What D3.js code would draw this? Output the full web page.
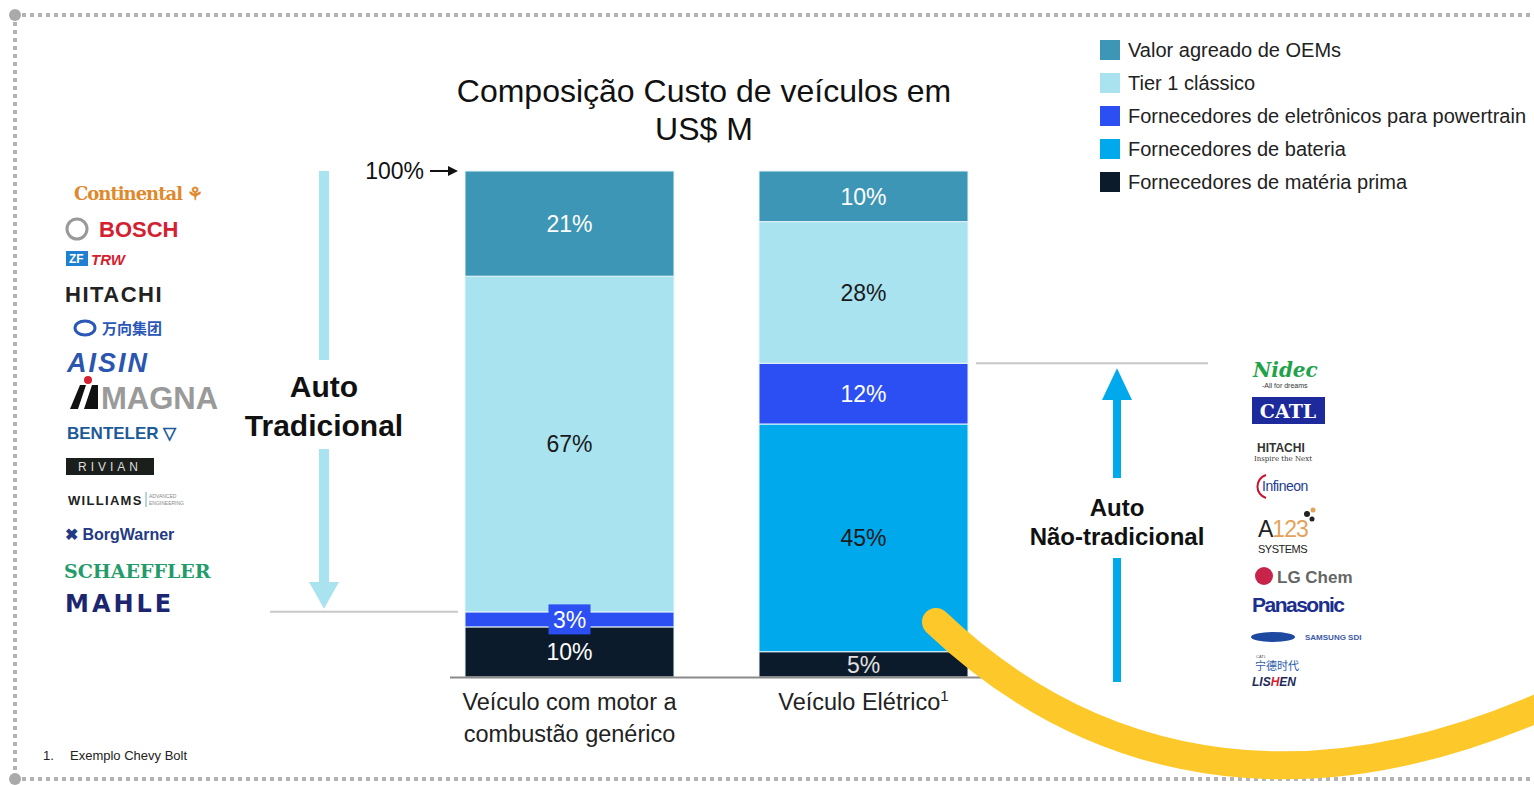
<!DOCTYPE html>
<html>
<head>
<meta charset="utf-8">
<script src="https://cdn.jsdelivr.net/npm/d3@7"></script>
<style>
	body { margin: 0; background: #fff; }
	svg { display: block; font-family: "Liberation Sans", Arial, sans-serif; }
</style>
</head>
<body>
<svg id="chart"></svg>
<script>
const WIDTH = 1534;
const HEIGHT = 785;

// data
const categories = ["Veículo com motor a combustão genérico", "Veículo Elétrico"];
const categoryLines = [["Veículo com motor a", "combustão genérico"], ["Veículo Elétrico¹"]];
const seriesNames = [
	"Fornecedores de matéria prima",
	"Fornecedores de bateria",
	"Fornecedores de eletrônicos para powertrain",
	"Tier 1 clássico",
	"Valor agreado de OEMs",
];
const materiaPrima = [10, 5];
const bateria = [0, 45];
const eletronicos = [3, 12];
const tier1 = [67, 28];
const oems = [21, 10];
const legendOrder = [4, 3, 2, 1, 0];

const colors = ["#0c1b2b", "#00a9ec", "#2b4ff2", "#a9e3ef", "#3d96b5"];
const labelColors = ["#ffffff", "#1a1a1a", "#ffffff", "#1a1a1a", "#ffffff"];

const leftLogos = ["Continental", "BOSCH", "TRW", "HITACHI", "万向集团", "AISIN", "MAGNA", "BENTELER", "RIVIAN", "WILLIAMS", "BorgWarner", "SCHAEFFLER", "MAHLE"];
const rightLogos = ["Nidec", "CATL", "HITACHI", "Infineon", "A123", "LG Chem", "Panasonic", "SAMSUNG SDI", "宁德时代", "LISHEN"];

const svg = d3.select("#chart").attr("width", WIDTH).attr("height", HEIGHT);

const table = categories.map((c, i) => ({
	cat: c,
	s0: materiaPrima[i],
	s1: bateria[i],
	s2: eletronicos[i],
	s3: tier1[i],
	s4: oems[i],
}));
const keys = ["s0", "s1", "s2", "s3", "s4"];
const stacked = d3.stack().keys(keys).offset(d3.stackOffsetExpand)(table);

const x = d3.scaleBand().domain(categories).range([465, 968]).paddingInner(85 / 294).paddingOuter(0);
const y = d3.scaleLinear([0, 1], [677, 171]);

// frame
const frame = svg.append("g").attr("stroke", "#b3b3b3").attr("stroke-width", 4).attr("stroke-dasharray", "4,4");
frame.append("line").attr("x1", 22).attr("x2", WIDTH).attr("y1", 15).attr("y2", 15);
frame.append("line").attr("x1", 15).attr("x2", 15).attr("y1", 22).attr("y2", 773);
frame.append("line").attr("x1", 22).attr("x2", WIDTH).attr("y1", 779).attr("y2", 779);
svg.append("circle").attr("cx", 15).attr("cy", 15).attr("r", 6).attr("fill", "#aaa");
svg.append("circle").attr("cx", 15).attr("cy", 779).attr("r", 6).attr("fill", "#aaa");

// title
svg.append("text").attr("x", 704).attr("y", 102).attr("text-anchor", "middle")
	.attr("font-size", 32).attr("fill", "#111").text("Composição Custo de veículos em");
svg.append("text").attr("x", 704).attr("y", 140).attr("text-anchor", "middle")
	.attr("font-size", 32).attr("fill", "#111").text("US$ M");

// bars
const layers = svg.append("g").selectAll("g").data(stacked).join("g")
	.attr("fill", (d, i) => colors[i]);
layers.selectAll("rect").data(d => d).join("rect")
	.attr("x", d => x(d.data.cat))
	.attr("width", x.bandwidth())
	.attr("y", d => y(d[1]))
	.attr("height", d => Math.max(0, y(d[0]) - y(d[1])))
	.attr("stroke", "#e6f5fa").attr("stroke-width", 1);

// segment labels
stacked.forEach((layer, li) => {
	layer.forEach((d, ci) => {
		const v = d.data[keys[li]];
		if (!v) return;
		const cx = x(d.data.cat) + x.bandwidth() / 2;
		const cy = (y(d[0]) + y(d[1])) / 2;
		if (v < 5) {
			svg.append("rect").attr("x", cx - 21).attr("y", cy - 15).attr("width", 42).attr("height", 30)
				.attr("fill", colors[li]);
		}
		svg.append("text").attr("x", cx).attr("y", cy).attr("dy", "0.36em")
			.attr("text-anchor", "middle").attr("font-size", 23)
			.attr("fill", li === 0 && ci === 1 ? "#e0e0e0" : labelColors[li])
			.text(v + "%");
	});
});

// baseline
svg.append("line").attr("x1", 450).attr("x2", 985).attr("y1", 677.5).attr("y2", 677.5)
	.attr("stroke", "#8a8a8a").attr("stroke-width", 2);

// x labels
categoryLines.forEach((lines, i) => {
	const cx = x(categories[i]) + x.bandwidth() / 2;
	lines.forEach((t, j) => {
		const tx = svg.append("text").attr("x", cx).attr("y", 710 + j * 32)
			.attr("text-anchor", "middle").attr("font-size", 23.5).attr("fill", "#222");
		if (t.endsWith("¹")) {
			tx.text(t.slice(0, -1));
			tx.append("tspan").attr("font-size", 15).attr("dy", -9).text("1");
		} else {
			tx.text(t);
		}
	});
});

// 100% marker
svg.append("text").attr("x", 424).attr("y", 179).attr("text-anchor", "end")
	.attr("font-size", 23).attr("fill", "#111").text("100%");
svg.append("line").attr("x1", 430).attr("x2", 450).attr("y1", 171).attr("y2", 171)
	.attr("stroke", "#111").attr("stroke-width", 2);
svg.append("path").attr("d", "M448,166 L458,171 L448,176 Z").attr("fill", "#111");

// separator lines
const ySepLeft = y(stacked[2][0][1]);
const ySepRight = y(stacked[2][1][1]);
svg.append("line").attr("x1", 270).attr("x2", 458).attr("y1", ySepLeft).attr("y2", ySepLeft)
	.attr("stroke", "#c8c8c8").attr("stroke-width", 2);
svg.append("line").attr("x1", 976).attr("x2", 1208).attr("y1", ySepRight).attr("y2", ySepRight)
	.attr("stroke", "#c8c8c8").attr("stroke-width", 2);

// left arrow: Auto Tradicional
const la = 324;
svg.append("rect").attr("x", la - 5).attr("y", y(1)).attr("width", 10).attr("height", 360 - y(1)).attr("fill", "#a9e3ef");
svg.append("rect").attr("x", la - 5).attr("y", 449).attr("width", 10).attr("height", 135).attr("fill", "#a9e3ef");
svg.append("path").attr("d", `M${la - 15},582 L${la + 15},582 L${la},${ySepLeft - 3} Z`).attr("fill", "#a9e3ef");
svg.append("text").attr("x", la).attr("y", 397).attr("text-anchor", "middle")
	.attr("font-size", 30).attr("font-weight", "bold").attr("fill", "#111").text("Auto");
svg.append("text").attr("x", la).attr("y", 436).attr("text-anchor", "middle")
	.attr("font-size", 30).attr("font-weight", "bold").attr("fill", "#111").text("Tradicional");

// right arrow: Auto Não-tradicional
const ra = 1117;
svg.append("path").attr("d", `M${ra - 15},400 L${ra + 15},400 L${ra},${ySepRight + 5} Z`).attr("fill", "#00a9ec");
svg.append("rect").attr("x", ra - 4).attr("y", 398).attr("width", 8).attr("height", 80).attr("fill", "#00a9ec");
svg.append("rect").attr("x", ra - 4).attr("y", 558).attr("width", 8).attr("height", 124).attr("fill", "#00a9ec");
svg.append("text").attr("x", ra).attr("y", 516).attr("text-anchor", "middle")
	.attr("font-size", 24).attr("font-weight", "bold").attr("fill", "#111").text("Auto");
svg.append("text").attr("x", ra).attr("y", 545).attr("text-anchor", "middle")
	.attr("font-size", 24).attr("font-weight", "bold").attr("fill", "#111").text("Não-tradicional");

// legend
const legend = svg.append("g").selectAll("g").data(legendOrder).join("g")
	.attr("transform", (d, i) => `translate(1100,${40 + i * 33})`);
legend.append("rect").attr("width", 20).attr("height", 20).attr("fill", d => colors[d]);
legend.append("text").attr("x", 28).attr("y", 17).attr("font-size", 20).attr("fill", "#222")
	.text(d => seriesNames[d]);

// footnote
svg.append("text").attr("x", 43).attr("y", 760).attr("font-size", 13).attr("fill", "#222").text("1.");
svg.append("text").attr("x", 70).attr("y", 760).attr("font-size", 13).attr("fill", "#222").text("Exemplo Chevy Bolt");

// left logos (text stand-ins)
const L = svg.append("g");
L.append("text").attr("x", 74).attr("y", 200).attr("font-family", "'DejaVu Serif', serif").attr("font-weight", "bold")
	.attr("font-size", 18).attr("fill", "#e0892c").attr("letter-spacing", -1).text(leftLogos[0] + " ⚘");
L.append("circle").attr("cx", 77).attr("cy", 229).attr("r", 10).attr("fill", "none").attr("stroke", "#999").attr("stroke-width", 3);
L.append("text").attr("x", 99).attr("y", 237).attr("font-weight", "bold").attr("font-size", 22).attr("fill", "#d42131").text(leftLogos[1]);
L.append("rect").attr("x", 66).attr("y", 251).attr("width", 22).attr("height", 15).attr("fill", "#1f7fd0");
L.append("text").attr("x", 69).attr("y", 263).attr("font-weight", "bold").attr("font-size", 12).attr("fill", "#fff").text("ZF");
L.append("text").attr("x", 91).attr("y", 265).attr("font-weight", "bold").attr("font-style", "italic").attr("font-size", 15).attr("fill", "#d42131").text(leftLogos[2]);
L.append("text").attr("x", 65).attr("y", 302).attr("font-weight", "bold").attr("font-size", 22).attr("fill", "#222").attr("letter-spacing", 1.5).text(leftLogos[3]);
L.append("ellipse").attr("cx", 85).attr("cy", 328).attr("rx", 10).attr("ry", 7).attr("fill", "none").attr("stroke", "#2a57b8").attr("stroke-width", 3);
L.append("text").attr("x", 102).attr("y", 334).attr("font-family", "'Noto Sans CJK SC'").attr("font-weight", "bold").attr("font-size", 15).attr("fill", "#2a57b8").text(leftLogos[4]);
L.append("text").attr("x", 67).attr("y", 372).attr("font-weight", "bold").attr("font-style", "italic").attr("font-size", 27).attr("fill", "#2b56b0").attr("letter-spacing", 2).text(leftLogos[5]);
L.append("path").attr("d", "M70,409 L80,385 L86,385 L78,409 Z M84,409 L92,385 L98,385 L98,409 Z").attr("fill", "#111");
L.append("circle").attr("cx", 88).attr("cy", 380).attr("r", 4).attr("fill", "#d42131");
L.append("text").attr("x", 101).attr("y", 409).attr("font-weight", "bold").attr("font-size", 31).attr("fill", "#9a9a9a").attr("letter-spacing", 0).text(leftLogos[6]);
L.append("text").attr("x", 67).attr("y", 439).attr("font-weight", "bold").attr("font-size", 17).attr("fill", "#1c5a98").text(leftLogos[7] + " ▽");
L.append("rect").attr("x", 66).attr("y", 458).attr("width", 88).attr("height", 17).attr("fill", "#1b1f1c");
L.append("text").attr("x", 110).attr("y", 471).attr("text-anchor", "middle").attr("font-size", 12).attr("fill", "#ddd").attr("letter-spacing", 4).text(leftLogos[8]);
L.append("text").attr("x", 68).attr("y", 505).attr("font-weight", "bold").attr("font-size", 13).attr("fill", "#222").attr("letter-spacing", 1.3).text(leftLogos[9]);
L.append("line").attr("x1", 146).attr("x2", 146).attr("y1", 492).attr("y2", 507).attr("stroke", "#7ab").attr("stroke-width", 1);
L.append("text").attr("x", 149).attr("y", 498).attr("font-size", 5).attr("fill", "#888").text("ADVANCED");
L.append("text").attr("x", 149).attr("y", 505).attr("font-size", 5).attr("fill", "#888").text("ENGINEERING");
L.append("text").attr("x", 65).attr("y", 540).attr("font-weight", "bold").attr("font-size", 16).attr("fill", "#243a82").text("✖ " + leftLogos[10]);
L.append("text").attr("x", 64).attr("y", 578).attr("font-family", "'DejaVu Serif', serif").attr("font-weight", "bold").attr("font-size", 19).attr("fill", "#239b6a").attr("letter-spacing", 0).text(leftLogos[11]);
L.append("text").attr("x", 65).attr("y", 612).attr("font-family", "'DejaVu Sans'").attr("font-weight", "bold").attr("font-size", 24).attr("fill", "#1c2670").attr("letter-spacing", 3).text(leftLogos[12]);

// right logos (text stand-ins)
const R = svg.append("g");
R.append("text").attr("x", 1253).attr("y", 377).attr("font-family", "'DejaVu Serif', serif").attr("font-weight", "bold").attr("font-style", "italic")
	.attr("font-size", 20).attr("fill", "#1ea34a").text(rightLogos[0]);
R.append("text").attr("x", 1262).attr("y", 388).attr("font-size", 7).attr("fill", "#333").text("-All for dreams");
R.append("rect").attr("x", 1252).attr("y", 397).attr("width", 73).attr("height", 27).attr("fill", "#1d2a9c");
R.append("text").attr("x", 1288).attr("y", 418).attr("text-anchor", "middle").attr("font-family", "'DejaVu Serif', serif").attr("font-weight", "bold").attr("font-size", 19).attr("fill", "#fff").text(rightLogos[1]);
R.append("text").attr("x", 1257).attr("y", 452).attr("font-weight", "bold").attr("font-size", 12).attr("fill", "#333").text(rightLogos[2]);
R.append("text").attr("x", 1254).attr("y", 461).attr("font-family", "'DejaVu Serif', serif").attr("font-size", 7).attr("fill", "#333").text("Inspire the Next");
R.append("path").attr("d", "M1266,475 A12,12 0 0 0 1266,498").attr("fill", "none").attr("stroke", "#c8102e").attr("stroke-width", 2);
R.append("text").attr("x", 1262).attr("y", 491).attr("font-size", 14).attr("fill", "#1d3b8f").attr("letter-spacing", -0.5).text(rightLogos[3]);
const a123 = R.append("text").attr("x", 1258).attr("y", 537).attr("font-size", 23).attr("fill", "#222").attr("letter-spacing", -1);
a123.append("tspan").text("A");
a123.append("tspan").attr("fill", "#e4a25a").text("123");
R.append("circle").attr("cx", 1307).attr("cy", 514).attr("r", 3).attr("fill", "#222");
R.append("circle").attr("cx", 1313).attr("cy", 510).attr("r", 2.5).attr("fill", "#e4a25a");
R.append("circle").attr("cx", 1312).attr("cy", 519).attr("r", 2.5).attr("fill", "#222");
R.append("text").attr("x", 1258).attr("y", 553).attr("font-size", 11).attr("fill", "#222").attr("letter-spacing", -0.5).text("SYSTEMS");
R.append("circle").attr("cx", 1264).attr("cy", 576).attr("r", 9).attr("fill", "#c8244a");
R.append("text").attr("x", 1277).attr("y", 583).attr("font-weight", "bold").attr("font-size", 17).attr("fill", "#666").text(rightLogos[5]);
R.append("text").attr("x", 1252).attr("y", 612).attr("font-weight", "bold").attr("font-size", 21).attr("fill", "#1b2f8f").attr("letter-spacing", -1.5).text(rightLogos[6]);
R.append("ellipse").attr("cx", 1273).attr("cy", 637).attr("rx", 22).attr("ry", 5).attr("fill", "#1d4aa0");
R.append("text").attr("x", 1305).attr("y", 640).attr("font-weight", "bold").attr("font-size", 8).attr("fill", "#3d5aa8").text(rightLogos[7]);
R.append("text").attr("x", 1256).attr("y", 658).attr("font-size", 4).attr("fill", "#555").text("CATL");
R.append("text").attr("x", 1255).attr("y", 670).attr("font-family", "'Noto Sans CJK SC'").attr("font-size", 11).attr("fill", "#2a5aa8").text(rightLogos[8]);
const lis = R.append("text").attr("x", 1252).attr("y", 686).attr("font-weight", "bold").attr("font-style", "italic").attr("font-size", 12).attr("fill", "#1b2a5a");
lis.append("tspan").text("LIS");
lis.append("tspan").attr("fill", "#d42131").text("H");
lis.append("tspan").text("EN");

// yellow swoosh
svg.append("path").attr("d", "M936,622 C1060,740 1260,830 1545,705")
	.attr("fill", "none").attr("stroke", "#fdc82a").attr("stroke-width", 28).attr("stroke-linecap", "round");
</script>
</body>
</html>
